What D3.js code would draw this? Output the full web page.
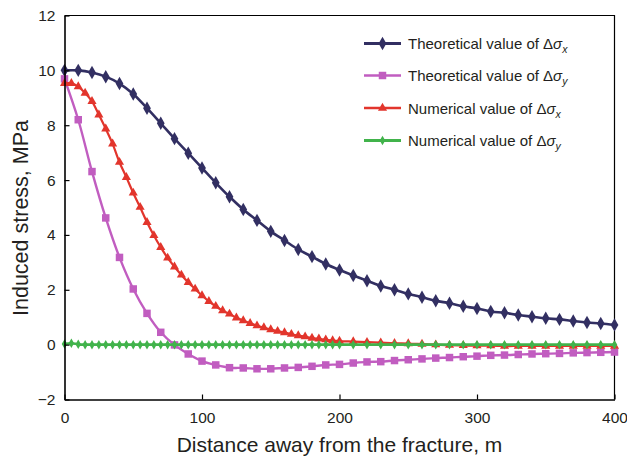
<!DOCTYPE html>
<html>
<head>
<meta charset="utf-8">
<script src="https://cdn.jsdelivr.net/npm/d3@7"></script>
<style>
  html, body { margin: 0; padding: 0; background: #fff; }
  svg { display: block; font-family: "Liberation Sans", Arial, Helvetica, sans-serif; }
</style>
</head>
<body>
<svg id="chart" width="627" height="457"></svg>
<script>
// ---- Data ----
const xTheo = d3.range(0, 401, 10);
const theoSigmaX = [10.0, 10.0, 9.92, 9.77, 9.52, 9.14, 8.62, 8.07, 7.51, 6.98, 6.44, 5.90, 5.39, 4.93, 4.53, 4.13, 3.80, 3.47, 3.21, 2.94, 2.72, 2.52, 2.33, 2.14, 2.00, 1.85, 1.73, 1.60, 1.51, 1.40, 1.32, 1.21, 1.16, 1.08, 1.02, 0.96, 0.92, 0.86, 0.81, 0.77, 0.72];
const theoSigmaY = [9.69, 8.20, 6.31, 4.62, 3.18, 2.03, 1.14, 0.45, -0.01, -0.34, -0.60, -0.74, -0.84, -0.85, -0.88, -0.88, -0.85, -0.83, -0.79, -0.74, -0.72, -0.67, -0.63, -0.62, -0.58, -0.55, -0.52, -0.49, -0.47, -0.44, -0.42, -0.39, -0.38, -0.36, -0.34, -0.33, -0.32, -0.30, -0.29, -0.28, -0.27];
const xNum = d3.range(0, 201, 5).concat(d3.range(210, 401, 10));
const numSigmaX = [9.53, 9.53, 9.41, 9.17, 8.87, 8.38, 7.87, 7.32, 6.65, 6.10, 5.53, 5.01, 4.46, 3.98, 3.55, 3.16, 2.84, 2.54, 2.27, 2.03, 1.79, 1.58, 1.40, 1.24, 1.12, 0.98, 0.88, 0.78, 0.69, 0.62, 0.55, 0.49, 0.44, 0.38, 0.33, 0.29, 0.24, 0.21, 0.18, 0.15, 0.13,
  0.11, 0.09, 0.07, 0.05, 0.04, 0.02, 0.00, -0.02, -0.03, -0.04, -0.04, -0.05, -0.05, -0.05, -0.05, -0.05, -0.05, -0.05, -0.05, -0.05];
const numSigmaY = [0.02, 0.05, 0.01, 0.0, 0.0, 0.0, 0.0, 0.0, 0.0, 0.0, 0.0, 0.0, 0.0, 0.0, 0.0, 0.0, 0.0, 0.0, 0.0, 0.0, 0.0, 0.0, 0.0, 0.0, 0.0, 0.0, 0.0, 0.0, 0.0, 0.0, 0.0, 0.0, 0.0, 0.0, 0.0, 0.0, 0.0, 0.0, 0.0, 0.0, 0.0,
  0.0, 0.0, 0.0, 0.0, 0.0, 0.0, 0.0, 0.0, 0.0, 0.0, 0.0, 0.0, 0.0, 0.0, 0.0, 0.0, 0.0, 0.0, 0.0, 0.0];
const xTicks = [0, 100, 200, 300, 400];
const yTicks = [-2, 0, 2, 4, 6, 8, 10, 12];
const seriesNames = ["Theoretical value of ", "Theoretical value of ", "Numerical value of ", "Numerical value of "];
const seriesSubs = ["x", "y", "x", "y"];

const series = [
  { xs: xTheo, ys: theoSigmaX, color: "#322f62", symbol: d3.symbolDiamond, size: 52, width: 2.6 },
  { xs: xTheo, ys: theoSigmaY, color: "#c15dc0", symbol: d3.symbolSquare, size: 56, width: 2.4 },
  { xs: xNum, ys: numSigmaX, color: "#e2352c", symbol: d3.symbolTriangle, size: 36, width: 2.2 },
  { xs: xNum, ys: numSigmaY, color: "#41b34b", symbol: d3.symbolDiamond, size: 26, width: 2.6 }
];

// ---- Chart ----
const svg = d3.select("#chart");
const x = d3.scaleLinear().domain([0, 400]).range([64.5, 614.5]);
const y = d3.scaleLinear().domain([-2, 12]).range([399.5, 15.5]);

// frame (top & right)
svg.append("path")
  .attr("d", `M${x(0)},${y(12)}H${x(400)}V${y(-2)}`)
  .attr("fill", "none").attr("stroke", "#000").attr("stroke-width", 1.2);

const line = d3.line().curve(d3.curveCatmullRom.alpha(0.5));

series.forEach(s => {
  const pts = s.xs.map((xv, i) => [x(xv), y(s.ys[i])]);
  svg.append("path")
    .attr("d", line(pts))
    .attr("fill", "none")
    .attr("stroke", s.color)
    .attr("stroke-width", s.width);
  svg.append("g").selectAll("path").data(pts).join("path")
    .attr("transform", d => `translate(${d[0]},${d[1]})`)
    .attr("d", d3.symbol().type(s.symbol).size(s.size))
    .attr("fill", s.color);
});

// axes
const fmt = d => d < 0 ? "\u2212" + Math.abs(d) : String(d);
const gx = svg.append("g").attr("transform", `translate(0,${y(-2)})`)
  .call(d3.axisBottom(x).tickValues(xTicks).tickSize(-5).tickPadding(12).tickSizeOuter(0).tickFormat(fmt));
const gy = svg.append("g").attr("transform", `translate(${x(0)},0)`)
  .call(d3.axisLeft(y).tickValues(yTicks).tickSize(-5).tickPadding(9).tickSizeOuter(0).tickFormat(fmt));
[gx, gy].forEach(g => {
  g.select(".domain").attr("stroke", "#000").attr("stroke-width", 1.6);
  g.selectAll(".tick line").attr("stroke", "#000").attr("stroke-width", 1.2);
  g.selectAll(".tick text").attr("fill", "#231f20").style("font-size", "15.5px").style("font-family", "Liberation Sans, Arial, sans-serif");
});

// axis titles
svg.append("text")
  .attr("x", x(200)).attr("y", 452)
  .attr("text-anchor", "middle")
  .style("font-size", "21px").attr("fill", "#231f20")
  .text("Distance away from the fracture, m");
svg.append("text")
  .attr("transform", `translate(28,218) rotate(-90)`)
  .attr("text-anchor", "middle")
  .style("font-size", "21.5px").attr("fill", "#231f20")
  .text("Induced stress, MPa");

// legend
const legRows = [43.5, 75.5, 108, 140.5];
series.forEach((s, i) => {
  const g = svg.append("g").attr("transform", `translate(0,${legRows[i]})`);
  g.append("line").attr("x1", 364).attr("x2", 401).attr("y1", 0).attr("y2", 0)
    .attr("stroke", s.color).attr("stroke-width", s.width + 0.3);
  g.append("path").attr("transform", "translate(382.5,0)")
    .attr("d", d3.symbol().type(s.symbol).size(s.size)).attr("fill", s.color);
  const t = g.append("text").attr("x", 408).attr("y", 5.5)
    .style("font-size", "15px").attr("fill", "#231f20");
  t.append("tspan").text(seriesNames[i] + "\u0394");
  t.append("tspan").style("font-style", "italic").text("\u03C3");
  t.append("tspan").style("font-style", "italic").style("font-size", "10.5px")
    .attr("dy", 4).text(seriesSubs[i]);
});
</script>
</body>
</html>
